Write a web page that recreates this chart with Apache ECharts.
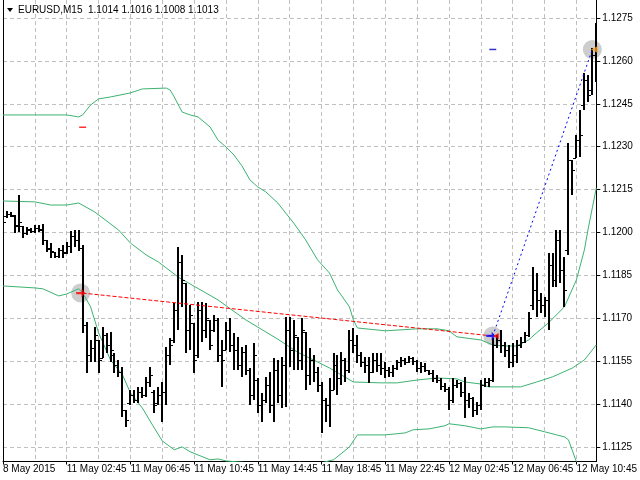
<!DOCTYPE html>
<html>
<head>
<meta charset="utf-8">
<script src="https://cdn.jsdelivr.net/npm/echarts@6/dist/echarts.min.js"></script>
<style>
  html, body { margin: 0; padding: 0; background: #fff; }
  #chart { width: 640px; height: 480px; }
</style>
</head>
<body>
<div id="chart"></div>
<script>
// EURUSD M15 bars, 8 May 22:45 .. 12 May 12:00 (one slot per bar)
var timeLabels = ['8 May 2015', '11 May 02:45', '11 May 06:45', '11 May 10:45', '11 May 14:45',
  '11 May 18:45', '11 May 22:45', '12 May 02:45', '12 May 06:45', '12 May 10:45'];
var priceTicks = [1.1125, 1.1140, 1.1155, 1.1170, 1.1185, 1.1200, 1.1215, 1.1230, 1.1245, 1.1260, 1.1275];

var opens = [
  1.12062,1.12058,1.12065,1.12058,1.12023,1.12023,1.11999,1.12009,1.12006,1.12016,
  1.12013,1.11974,1.11946,1.11932,1.11918,1.11939,1.11932,1.11953,1.11988,1.11974,
  1.11946,1.11677,1.11572,1.11596,1.11624,1.11561,1.11642,1.11607,1.11572,1.11537,
  1.11512,1.11379,1.11404,1.11432,1.11414,1.11442,1.11432,1.11477,1.11442,1.11404,
  1.11432,1.11442,1.11572,1.11624,1.11729,1.11897,1.11824,1.11659,1.11684,1.11572,
  1.11729,1.11659,1.11694,1.11659,1.11694,1.11572,1.11589,1.11659,1.11607,1.11589,
  1.11537,1.11582,1.11519,1.11432,1.11484,1.11397,1.11414,1.11467,1.11397,1.11519,
  1.11432,1.11537,1.11659,1.11589,1.11635,1.11554,1.11652,1.11502,1.11554,1.11512,
  1.11467,1.11414,1.11397,1.11449,1.11537,1.11491,1.11554,1.11519,1.11624,1.11607,
  1.11572,1.11547,1.11537,1.11512,1.11554,1.11537,1.11526,1.11519,1.11512,1.11526,
  1.11547,1.11554,1.11547,1.11561,1.11551,1.11526,1.11533,1.11519,1.11509,1.11491,
  1.11484,1.11463,1.11453,1.11414,1.11467,1.11474,1.11442,1.11414,1.11421,1.11379,
  1.11397,1.11467,1.11477,1.11484,1.11607,1.11624,1.11607,1.11589,1.11547,1.11572,
  1.11607,1.11617,1.11642,1.11747,1.11799,1.11764,1.11747,1.11764,1.11887,1.11834,
  1.11974,1.11869,1.11939,1.12253,1.12260,1.12323,1.12446,1.12533,1.12498,1.12621
];
var highs = [
  1.12079,1.12075,1.12072,1.12062,1.12132,1.12023,1.12020,1.12016,1.12027,1.12027,
  1.12030,1.11974,1.11964,1.11932,1.11946,1.11957,1.11967,1.12006,1.12009,1.12009,
  1.11957,1.11687,1.11624,1.11669,1.11624,1.11669,1.11649,1.11652,1.11579,1.11554,
  1.11530,1.11379,1.11449,1.11449,1.11460,1.11460,1.11495,1.11530,1.11449,1.11460,
  1.11477,1.11600,1.11631,1.11754,1.11950,1.11922,1.11824,1.11747,1.11684,1.11757,
  1.11757,1.11754,1.11694,1.11712,1.11701,1.11624,1.11687,1.11701,1.11649,1.11635,
  1.11600,1.11607,1.11526,1.11614,1.11491,1.11439,1.11495,1.11512,1.11561,1.11554,
  1.11565,1.11705,1.11705,1.11694,1.11635,1.11701,1.11652,1.11596,1.11572,1.11530,
  1.11477,1.11421,1.11491,1.11579,1.11572,1.11582,1.11561,1.11659,1.11666,1.11642,
  1.11582,1.11565,1.11565,1.11579,1.11579,1.11579,1.11547,1.11530,1.11537,1.11554,
  1.11565,1.11561,1.11568,1.11565,1.11554,1.11547,1.11544,1.11519,1.11519,1.11502,
  1.11491,1.11474,1.11460,1.11491,1.11484,1.11477,1.11495,1.11439,1.11425,1.11407,
  1.11484,1.11491,1.11491,1.11631,1.11642,1.11659,1.11617,1.11607,1.11614,1.11624,
  1.11635,1.11652,1.11722,1.11879,1.11858,1.11789,1.11775,1.11929,1.11929,1.12009,
  1.12009,1.11915,1.12313,1.12253,1.12341,1.12428,1.12558,1.12551,1.12645,1.12733
];
var lows = [
  1.12016,1.12051,1.12055,1.11999,1.12002,1.11981,1.11992,1.11999,1.11999,1.12002,
  1.11957,1.11932,1.11911,1.11911,1.11911,1.11911,1.11925,1.11929,1.11950,1.11935,
  1.11649,1.11509,1.11547,1.11547,1.11509,1.11561,1.11579,1.11547,1.11509,1.11495,
  1.11355,1.11320,1.11397,1.11404,1.11404,1.11421,1.11425,1.11460,1.11369,1.11397,
  1.11337,1.11397,1.11537,1.11614,1.11659,1.11740,1.11579,1.11589,1.11509,1.11561,
  1.11617,1.11631,1.11589,1.11652,1.11547,1.11460,1.11589,1.11582,1.11519,1.11519,
  1.11495,1.11502,1.11397,1.11414,1.11369,1.11337,1.11404,1.11369,1.11337,1.11404,
  1.11386,1.11390,1.11530,1.11519,1.11519,1.11519,1.11449,1.11467,1.11477,1.11442,
  1.11299,1.11337,1.11320,1.11449,1.11432,1.11467,1.11477,1.11509,1.11579,1.11544,
  1.11530,1.11509,1.11474,1.11509,1.11512,1.11502,1.11491,1.11495,1.11495,1.11519,
  1.11530,1.11537,1.11544,1.11537,1.11512,1.11509,1.11512,1.11502,1.11477,1.11474,
  1.11449,1.11442,1.11379,1.11404,1.11456,1.11425,1.11351,1.11386,1.11355,1.11362,
  1.11379,1.11460,1.11460,1.11477,1.11596,1.11579,1.11565,1.11526,1.11530,1.11544,
  1.11596,1.11614,1.11635,1.11729,1.11705,1.11719,1.11705,1.11659,1.11810,1.11810,
  1.11824,1.11740,1.11922,1.12132,1.12260,1.12264,1.12428,1.12456,1.12481,1.12526
];
var closes = [
  1.12037,1.12065,1.12062,1.12027,1.12037,1.11999,1.12013,1.12006,1.12016,1.12009,
  1.11974,1.11942,1.11935,1.11918,1.11939,1.11929,1.11953,1.11988,1.11974,1.11946,
  1.11677,1.11572,1.11596,1.11642,1.11554,1.11642,1.11607,1.11589,1.11537,1.11512,
  1.11379,1.11344,1.11432,1.11414,1.11442,1.11432,1.11477,1.11502,1.11397,1.11432,
  1.11442,1.11572,1.11607,1.11729,1.11897,1.11834,1.11659,1.11712,1.11554,1.11729,
  1.11659,1.11701,1.11607,1.11694,1.11572,1.11554,1.11659,1.11607,1.11589,1.11537,
  1.11582,1.11519,1.11432,1.11572,1.11397,1.11414,1.11467,1.11397,1.11519,1.11432,
  1.11537,1.11659,1.11589,1.11642,1.11554,1.11659,1.11502,1.11554,1.11512,1.11467,
  1.11414,1.11397,1.11449,1.11537,1.11491,1.11554,1.11519,1.11624,1.11607,1.11572,
  1.11547,1.11537,1.11512,1.11554,1.11537,1.11526,1.11519,1.11512,1.11526,1.11547,
  1.11554,1.11547,1.11561,1.11551,1.11526,1.11533,1.11519,1.11509,1.11491,1.11484,
  1.11463,1.11453,1.11414,1.11467,1.11474,1.11442,1.11414,1.11421,1.11379,1.11397,
  1.11467,1.11477,1.11484,1.11607,1.11624,1.11607,1.11589,1.11547,1.11572,1.11607,
  1.11617,1.11642,1.11701,1.11799,1.11764,1.11747,1.11764,1.11887,1.11834,1.11974,
  1.11869,1.11799,1.12253,1.12218,1.12323,1.12341,1.12533,1.12481,1.12621,1.12603
];

// Bollinger bands, traced as [bar, price]
var bandUpper = [[0,1.12411],[16,1.12411],[19,1.12404],[20,1.12411],[22,1.12446],[24,1.12467],[27,1.12474],
  [32,1.12488],[35,1.12502],[41,1.12505],[42,1.12498],[43,1.12474],[45,1.12421],[47,1.12411],[49,1.12404],
  [52,1.12369],[54,1.12323],[56,1.12299],[58,1.12271],[60,1.12233],[62,1.12184],[64,1.12159],[66,1.12142],
  [69,1.12103],[71,1.12068],[73,1.12033],[76,1.11974],[79,1.11904],[82,1.11858],[84,1.11799],[87,1.11740],
  [88,1.11694],[89,1.11666],[96,1.11656],[104,1.11663],[109,1.11663],[112,1.11656],[114,1.11635],[120,1.11624],
  [123,1.11607],[126,1.11603],[129,1.11603],[132,1.11624],[134,1.11649],[137,1.11684],[141,1.11740],
  [144,1.11834],[146,1.11939],[147,1.12016],[148,1.12086],[149,1.12156]];
var bandMiddle = [[0,1.12110],[8,1.12107],[12,1.12096],[16,1.12096],[19,1.12103],[23,1.12072],[29,1.12009],
  [32,1.11963],[36,1.11921],[39,1.11897],[44,1.11844],[54,1.11764],[61,1.11694],[69,1.11627],[74,1.11581],
  [78,1.11554],[82,1.11526],[88,1.11477],[95,1.11474],[99,1.11474],[104,1.11484],[109,1.11491],[114,1.11488],
  [116,1.11477],[120,1.11470],[122,1.11460],[130,1.11460],[134,1.11477],[138,1.11495],[143,1.11526],
  [146,1.11554],[149,1.11607]];
var bandLower = [[0,1.11813],[8,1.11806],[10,1.11803],[14,1.11778],[16,1.11785],[19,1.11803],[20,1.11789],
  [22,1.11740],[24,1.11649],[27,1.11554],[30,1.11502],[32,1.11439],[35,1.11386],[38,1.11316],[40,1.11271],
  [43,1.11240],[45,1.11250],[47,1.11233],[52,1.11205],[54,1.11208],[56,1.11201],[62,1.11194],[66,1.11177],
  [74,1.11163],[79,1.11191],[83,1.11205],[87,1.11250],[89,1.11292],[96,1.11292],[101,1.11299],[103,1.11310],
  [107,1.11313],[111,1.11324],[112,1.11331],[116,1.11324],[120,1.11313],[123,1.11320],[126,1.11320],
  [132,1.11317],[136,1.11303],[141,1.11285],[142,1.11275],[144,1.11198],[149,1.11065]];

// trades
var sellTrade = [[20, 1.11788], [123, 1.11638]];
var buyTrade = [[123, 1.11638], [148, 1.12640]];
var sellStop = [20, 1.12368];
var buyTake = [123, 1.12640];

var yMin = 1.11199, yMax = 1.12813;
var slots = opens.map(function (_, i) { return String(i); });
var bars = opens.map(function (o, i) { return [i, o, highs[i], lows[i], closes[i]]; });

var chart = echarts.init(document.getElementById('chart'));

function renderBar(params, api) {
  var i = api.value(0);
  var pO = api.coord([i, api.value(1)]);
  var pH = api.coord([i, api.value(2)]);
  var pL = api.coord([i, api.value(3)]);
  var pC = api.coord([i, api.value(4)]);
  var x = Math.round(pH[0]);
  var yo = Math.round(pO[1]) + 0.5;
  var yc = Math.round(pC[1]) + 0.5;
  return {
    type: 'group',
    children: [
      { type: 'rect', shape: { x: x - 1, y: Math.round(pH[1]), width: 2, height: Math.max(Math.round(pL[1] - pH[1]), 1) }, style: { fill: '#000' } },
      { type: 'line', shape: { x1: x - 3, y1: yo, x2: x, y2: yo }, style: { stroke: '#000', lineWidth: 1 } },
      { type: 'line', shape: { x1: x, y1: yc, x2: x + 3, y2: yc }, style: { stroke: '#000', lineWidth: 1 } }
    ]
  };
}

var grid = '#c0c0c0';
var bandStyle = { color: '#3cb371', width: 1 };
var arrowRight = 'path://M0,4 L6,4 L6,1 L10,5 L6,9 L6,6 L0,6 Z';

chart.setOption({
  animation: false,
  backgroundColor: '#fff',
  textStyle: { fontFamily: 'Liberation Sans' },
  title: {
    text: 'EURUSD,M15  1.1014 1.1016 1.1008 1.1013',
    left: 18, top: 5, padding: 0,
    textStyle: { fontSize: 10, fontWeight: 'normal', color: '#000', fontFamily: 'Liberation Sans' }
  },
  graphic: [{ type: 'polygon', shape: { points: [[7, 8], [13, 8], [10, 12]] }, style: { fill: '#000' }, z: 100 }],
  grid: { left: 3, right: 40, top: 0, bottom: 18.5 },
  xAxis: {
    type: 'category', data: slots, boundaryGap: false,
    axisLine: { show: true, onZero: false, lineStyle: { color: '#000' } },
    axisTick: { show: true, interval: 15, length: 3, lineStyle: { color: '#000' } },
    axisLabel: {
      interval: 15, align: 'left', margin: 3, color: '#000', fontSize: 10,
      formatter: function (v, idx) { return timeLabels[idx / 16] || ''; }
    },
    splitLine: { show: true, interval: 7, lineStyle: { color: grid, type: [4, 3] } }
  },
  yAxis: [{
    type: 'value', position: 'right', min: yMin, max: yMax,
    axisLine: { show: true, lineStyle: { color: '#000' } },
    axisTick: { show: true, customValues: priceTicks, length: 4, lineStyle: { color: '#000' } },
    axisLabel: {
      customValues: priceTicks, margin: 6, color: '#000', fontSize: 10,
      formatter: function (v) { return v.toFixed(4); }
    },
    splitLine: { show: true, lineStyle: { color: grid, type: [4, 3] } }
  }, {
    type: 'value', position: 'left', min: yMin, max: yMax,
    axisLine: { show: true, lineStyle: { color: '#000' } },
    axisTick: { show: false }, axisLabel: { show: false }, splitLine: { show: false }
  }],
  series: [
    { name: 'upper', type: 'line', data: bandUpper, symbol: 'none', lineStyle: bandStyle, z: 2 },
    { name: 'middle', type: 'line', data: bandMiddle, symbol: 'none', lineStyle: bandStyle, z: 2 },
    { name: 'lower', type: 'line', data: bandLower, symbol: 'none', lineStyle: bandStyle, z: 2 },
    {
      name: 'circles', type: 'scatter', symbol: 'circle', symbolSize: 19, z: 1,
      itemStyle: { color: '#c0c0c0' },
      data: [{ value: sellTrade[0], symbolOffset: [-2, 0] }, sellTrade[1], buyTrade[1]]
    },
    {
      name: 'EURUSD', type: 'custom', renderItem: renderBar, data: bars, clip: true, z: 3,
      encode: { x: 0, y: [1, 2, 3, 4] }
    },
    {
      name: 'sell', type: 'line', data: sellTrade, symbol: 'none', z: 4,
      lineStyle: { color: '#ff0000', width: 1, type: [4, 2] }
    },
    {
      name: 'buy', type: 'line', data: buyTrade, symbol: 'none', z: 4,
      lineStyle: { color: '#0000ff', width: 1, type: [2, 3] }
    },
    {
      name: 'marks', type: 'scatter', z: 5,
      data: [
        { value: sellTrade[0], symbol: arrowRight, symbolSize: 9, symbolOffset: [-2, 0], itemStyle: { color: '#ff0000' } },
        { value: buyTrade[0], symbol: arrowRight, symbolSize: 9, symbolOffset: [-2, 0], itemStyle: { color: '#0000ff' } },
        { value: sellTrade[1], symbol: 'triangle', symbolSize: [6, 6], symbolRotate: 90, symbolOffset: [3, 0], itemStyle: { color: '#ff0000' } },
        { value: buyTrade[1], symbol: 'triangle', symbolSize: [7, 7], symbolRotate: 90, symbolOffset: [2, 0], itemStyle: { color: '#f0a030' } },
        { value: sellStop, symbol: 'rect', symbolSize: [7, 1.5], itemStyle: { color: '#ff0000' } },
        { value: buyTake, symbol: 'rect', symbolSize: [7, 1.5], itemStyle: { color: '#0000c0' } }
      ]
    }
  ]
});
</script>
</body>
</html>
